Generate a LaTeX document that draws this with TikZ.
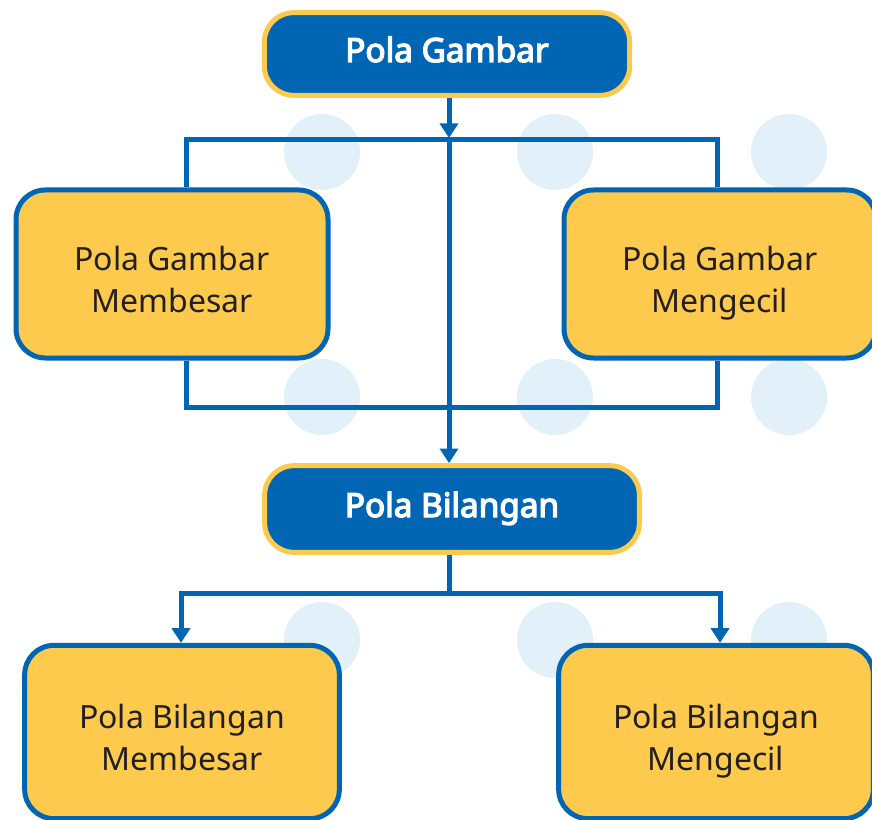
\documentclass[tikz,border=0pt]{standalone}
\usepackage{fontspec}
\setmainfont{Noto Sans}[BoldFont={Noto Sans}, BoldFeatures={FakeBold=4}]
\usepackage{xcolor}
\usepackage{tikz}
\usetikzlibrary{arrows.meta, positioning}

\definecolor{polablue}{HTML}{0065B3}
\definecolor{polayellow}{HTML}{FDCA4D}
\definecolor{polacircle}{HTML}{E2F0F9}
\definecolor{polatext}{HTML}{231F20}

\begin{document}
\begin{tikzpicture}[
        x=0.75pt, y=-0.75pt,
        title/.style={draw=polayellow, fill=polablue, line width=3.75pt, rounded corners=22pt, inner sep=0pt, align=center, text height=17pt, text depth=5pt, text=white, font=\fontsize{25}{32}\selectfont\bfseries},
        item/.style={draw=polablue, fill=polayellow, line width=3.75pt, rounded corners=22pt, inner sep=0pt, align=center, text height=62pt, text depth=4pt, text=polatext, font=\fontsize{24}{32}\selectfont, minimum width=234pt, minimum height=126pt},
        line/.style={draw=polablue, line width=3.75pt},
        arrow/.style={line, -{Triangle[length=11pt, width=13.5pt]}}
    ]
        \useasboundingbox (0,0) rectangle (872,820);

        % light circles in the back
        \foreach \cx in {322,555,789}
            \foreach \cy in {152,397,640}
                \fill [polacircle] (\cx,\cy) circle [radius=28.5pt];

        \node (pola_gambar) [title, minimum width=274pt, minimum height=62pt] at (447,54) {Pola Gambar};
        \node (gambar_besar) [item] at (172,274) {Pola Gambar\\Membesar};
        \node (gambar_kecil) [item] at (720,274) {Pola Gambar\\Mengecil};
        \node (pola_bilangan) [title, minimum width=281pt, minimum height=65pt] at (452,509) {Pola Bilangan};
        \node (bilangan_besar) [item, minimum width=236pt, minimum height=130pt] at (182,732) {Pola Bilangan\\Membesar};
        \node (bilangan_kecil) [item, minimum width=236pt, minimum height=130pt] at (716,732) {Pola Bilangan\\Mengecil};

        \coordinate (top_join) at (449,138);
        \coordinate (top_left) at (186,140);
        \coordinate (top_right) at (717,140);
        \coordinate (low_left) at (186,407);
        \coordinate (low_right) at (717,407);
        \coordinate (num_join) at (449,593);
        \coordinate (num_left) at (181,593);
        \coordinate (num_right) at (720,593);

        \draw [line] (top_left |- gambar_besar.north) -- (top_left) -- (top_right) -- (top_right |- gambar_kecil.north);
        \draw [line] (low_left |- gambar_besar.south) -- (low_left) -- (low_right) -- (low_right |- gambar_kecil.south);
        \draw [arrow] (pola_gambar.south -| top_join) -- (top_join);
        \draw [arrow] (top_join) -- (top_join |- pola_bilangan.north);
        \draw [line] (pola_bilangan.south -| num_join) -- (num_join);
        \draw [arrow] (num_join) -- (num_left) -- (num_left |- bilangan_besar.north);
        \draw [arrow] (num_join) -- (num_right) -- (num_right |- bilangan_kecil.north);
    \end{tikzpicture}
\end{document}
